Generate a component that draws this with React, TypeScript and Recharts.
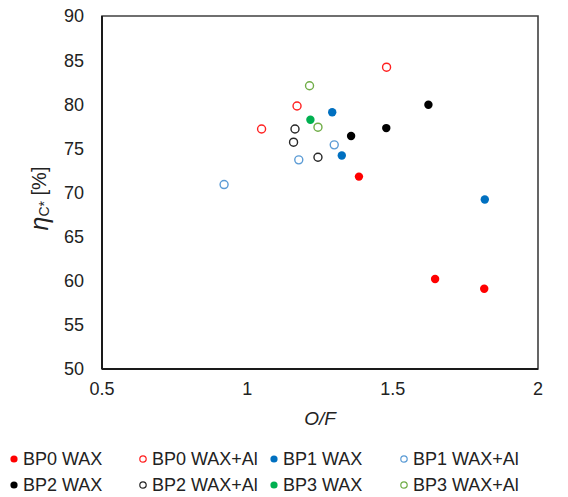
import React from 'react';
import { ScatterChart, Scatter, XAxis, YAxis, ReferenceArea, Label } from 'recharts';

const bp0Wax = [{ x: 1.384, y: 71.8 }, { x: 1.646, y: 60.2 }, { x: 1.815, y: 59.1 }];
const bp0WaxAl = [{ x: 1.049, y: 77.2 }, { x: 1.171, y: 79.8 }, { x: 1.479, y: 84.2 }];
const bp1Wax = [{ x: 1.292, y: 79.1 }, { x: 1.325, y: 74.2 }, { x: 1.817, y: 69.2 }];
const bp1WaxAl = [{ x: 0.92, y: 70.9 }, { x: 1.177, y: 73.7 }, { x: 1.299, y: 75.4 }];
const bp2Wax = [{ x: 1.357, y: 76.4 }, { x: 1.478, y: 77.3 }, { x: 1.623, y: 79.95 }];
const bp2WaxAl = [{ x: 1.164, y: 77.2 }, { x: 1.159, y: 75.7 }, { x: 1.243, y: 74.0 }];
const bp3Wax = [{ x: 1.217, y: 78.25 }];
const bp3WaxAl = [{ x: 1.214, y: 82.1 }, { x: 1.243, y: 77.4 }];

const xTicks = [0.5, 1, 1.5, 2];
const yTicks = [50, 55, 60, 65, 70, 75, 80, 85, 90];

const seriesList = [
  { name: 'BP0 WAX', data: bp0Wax, color: '#FF0000', filled: true },
  { name: 'BP0 WAX+Al', data: bp0WaxAl, color: '#FF2020', filled: false },
  { name: 'BP1 WAX', data: bp1Wax, color: '#0070C0', filled: true },
  { name: 'BP1 WAX+Al', data: bp1WaxAl, color: '#5B9BD5', filled: false },
  { name: 'BP2 WAX', data: bp2Wax, color: '#000000', filled: true },
  { name: 'BP2 WAX+Al', data: bp2WaxAl, color: '#262626', filled: false },
  { name: 'BP3 WAX', data: bp3Wax, color: '#00B050', filled: true },
  { name: 'BP3 WAX+Al', data: bp3WaxAl, color: '#70AD47', filled: false },
];

const FONT = "Arial, 'Liberation Sans', sans-serif";

const makeShape = (color: string, filled: boolean) => (props: any) => (
  <circle
    cx={props.cx}
    cy={props.cy}
    r={filled ? 4.2 : 4}
    fill={filled ? color : '#fff'}
    stroke={color}
    strokeWidth={filled ? 0 : 1.4}
  />
);

const YLabel = (props: any) => {
  const vb = props.viewBox || { x: 0, y: 0, width: 0, height: 0 };
  const cx = vb.x + 39;
  const cy = vb.y + vb.height / 2 + 6;
  return (
    <text
      x={cx}
      y={cy}
      transform={`rotate(-90, ${cx}, ${cy})`}
      textAnchor="middle"
      dominantBaseline="central"
      fontFamily={FONT}
      fontSize={20}
      fill="#222"
    >
      <tspan fontStyle="italic" fontSize={25}>η</tspan>
      <tspan fontSize={14} dy={5}>C*</tspan>
      <tspan dy={-5}> [%]</tspan>
    </text>
  );
};

const legendCols = [14, 143, 274, 404];
const legendRows = [459, 485];

export default function App() {
  return (
    <div style={{ position: 'absolute', left: 0, top: 0, width: 568, height: 497, background: '#fff' }}>
      <ScatterChart width={568} height={497} margin={{ top: 16, right: 30, bottom: 88, left: 0 }}>
        <XAxis
          type="number"
          dataKey="x"
          domain={[0.5, 2]}
          ticks={xTicks}
          allowDataOverflow
          height={40}
          tickLine={false}
          tickSize={0}
          tickMargin={13}
          axisLine={{ stroke: '#1a1a1a', strokeWidth: 2 }}
          tick={{ fill: '#222', fontSize: 18, fontFamily: FONT }}
        >
          <Label
            value="O/F"
            position="insideBottom"
            offset={-16}
            style={{ fontStyle: 'italic', fontSize: 19, fontFamily: FONT, fill: '#222' }}
          />
        </XAxis>
        <YAxis
          type="number"
          dataKey="y"
          domain={[50, 90]}
          ticks={yTicks}
          allowDataOverflow
          width={102}
          tickLine={false}
          tickSize={0}
          tickMargin={18}
          axisLine={{ stroke: '#1a1a1a', strokeWidth: 2 }}
          tick={{ fill: '#222', fontSize: 18, fontFamily: FONT }}
        >
          <Label content={<YLabel />} />
        </YAxis>
        <ReferenceArea x1={0.5} x2={2} y1={50} y2={90} fill="none" stroke="#404040" strokeWidth={1.6} />
        {seriesList.map((s) => (
          <Scatter
            key={s.name}
            name={s.name}
            data={s.data}
            isAnimationActive={false}
            shape={makeShape(s.color, s.filled)}
          />
        ))}
      </ScatterChart>
      {seriesList.map((s, i) => {
        const col = i % 4;
        const row = Math.floor(i / 4);
        const mx = legendCols[col];
        const my = legendRows[row];
        return (
          <div
            key={s.name}
            style={{
              position: 'absolute',
              left: mx - 5,
              top: my - 11,
              height: 22,
              display: 'flex',
              alignItems: 'center',
              fontFamily: FONT,
              fontSize: 18,
              color: '#222',
              whiteSpace: 'nowrap',
            }}
          >
            <svg width={10} height={10} style={{ marginRight: 4 }}>
              <circle
                cx={5}
                cy={5}
                r={s.filled ? 3.6 : 3.2}
                fill={s.filled ? s.color : '#fff'}
                stroke={s.color}
                strokeWidth={s.filled ? 0 : 1.2}
              />
            </svg>
            <span>{s.name}</span>
          </div>
        );
      })}
    </div>
  );
}
